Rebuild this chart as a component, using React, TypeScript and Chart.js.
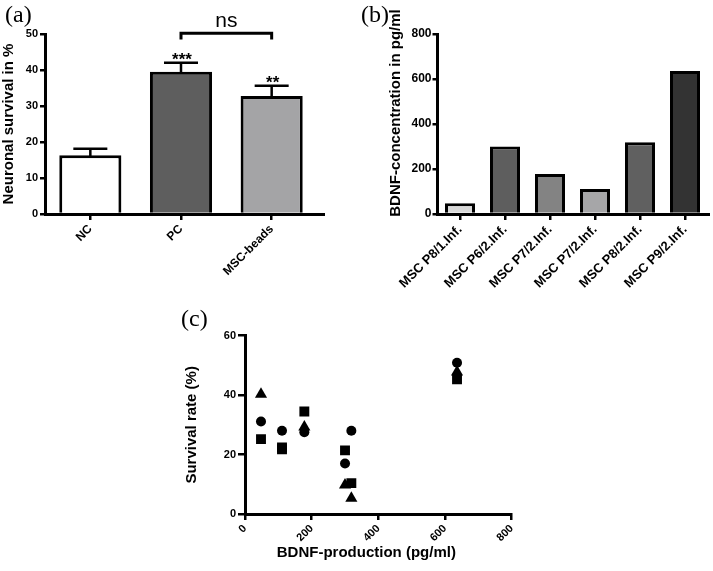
import React, { useEffect, useRef } from 'react';
import { Chart, registerables } from 'chart.js';

Chart.register(...registerables);

const FONT = '"Liberation Sans", Arial, Helvetica, sans-serif';

// ---------- Panel (a) ----------
const aCategories = ['NC', 'PC', 'MSC-beads'];
const aMeans = [16.3, 39.5, 32.8];
const aErrors = [1.8, 2.5, 2.8];
const aStars = ['', '***', '**'];
const aColors = ['#ffffff', '#5e5e5e', '#a4a4a6'];
const aYMax = 50;
const aYStep = 10;

// ---------- Panel (b) ----------
const bCategories = [
  'MSC P8/1.Inf.',
  'MSC P6/2.Inf.',
  'MSC P7/2.Inf.',
  'MSC P7/2.Inf.',
  'MSC P8/2.Inf.',
  'MSC P9/2.Inf.',
];
const bValues = [48, 300, 178, 111, 319, 636];
const bColors = ['#d8d8d8', '#5e5e5e', '#838383', '#a6a6a8', '#606060', '#333333'];
const bYMax = 800;
const bYStep = 200;

// ---------- Panel (c) ----------
const circleX = [48, 111, 178, 300, 319, 636];
const circleY = [31.1, 28.0, 27.5, 17.0, 28.0, 50.9];
const squareX = [48, 111, 111, 178, 300, 319, 636];
const squareY = [25.2, 22.4, 21.8, 34.5, 21.4, 10.4, 45.3];
const triangleX = [48, 178, 300, 319, 636];
const triangleY = [40.3, 29.3, 9.8, 5.3, 47.8];
const cXMax = 800;
const cXStep = 200;
const cYMax = 60;
const cYStep = 20;

const pts = (xs: number[], ys: number[]) => xs.map((x, i) => ({ x, y: ys[i] }));

const tickFont = (size: number) => ({ family: FONT, size, weight: 'bold' as const });

function extendXAxis(px: number) {
  return {
    id: 'extendXAxis',
    afterDraw(chart: any) {
      const { ctx, chartArea } = chart;
      const y = Math.floor(chartArea.bottom) + 0.5;
      ctx.save();
      ctx.strokeStyle = '#000';
      ctx.lineWidth = 3;
      ctx.beginPath();
      ctx.moveTo(chartArea.right - 2, y);
      ctx.lineTo(chartArea.right + px, y);
      ctx.stroke();
      ctx.restore();
    },
  };
}

const aAnnotations = {
  id: 'aAnnotations',
  afterDatasetsDraw(chart: any) {
    const { ctx } = chart;
    const ys = chart.scales.y;
    const meta = chart.getDatasetMeta(0);
    ctx.save();
    ctx.strokeStyle = '#000';
    ctx.fillStyle = '#000';
    ctx.lineWidth = 2.5;
    meta.data.forEach((bar: any, i: number) => {
      const top = ys.getPixelForValue(aMeans[i]);
      const et = ys.getPixelForValue(aMeans[i] + aErrors[i]);
      ctx.beginPath();
      ctx.moveTo(bar.x, top + 2);
      ctx.lineTo(bar.x, et);
      ctx.moveTo(bar.x - 17, et);
      ctx.lineTo(bar.x + 17, et);
      ctx.stroke();
      if (aStars[i]) {
        ctx.font = `bold 17px ${FONT}`;
        ctx.textAlign = 'center';
        ctx.textBaseline = 'alphabetic';
        ctx.fillText(aStars[i], bar.x + 1, et + 2);
      }
    });
    // significance bracket between PC and MSC-beads
    const x1 = meta.data[1].x;
    const x2 = meta.data[2].x;
    const yTop = ys.getPixelForValue(50.2);
    const yDrop = ys.getPixelForValue(48.5);
    ctx.lineWidth = 3;
    ctx.lineJoin = 'miter';
    ctx.beginPath();
    ctx.moveTo(x1, yDrop);
    ctx.lineTo(x1, yTop);
    ctx.lineTo(x2, yTop);
    ctx.lineTo(x2, yDrop);
    ctx.stroke();
    ctx.font = `21px ${FONT}`;
    ctx.textAlign = 'center';
    ctx.textBaseline = 'alphabetic';
    ctx.fillText('ns', (x1 + x2) / 2, yTop - 6.5);
    ctx.restore();
  },
};

function customTitle(id: string, text: string, axis: 'x' | 'y', offsetAlong: number, pos: number) {
  return {
    id,
    afterDraw(chart: any) {
      const { ctx, chartArea } = chart;
      ctx.save();
      ctx.fillStyle = '#000';
      ctx.font = `bold 15px ${FONT}`;
      ctx.textAlign = 'center';
      ctx.textBaseline = 'middle';
      if (axis === 'x') {
        ctx.fillText(text, (chartArea.left + chartArea.right) / 2 + offsetAlong, pos);
      } else {
        ctx.translate(pos, (chartArea.top + chartArea.bottom) / 2 + offsetAlong);
        ctx.rotate(-Math.PI / 2);
        ctx.fillText(text, 0, 0);
      }
      ctx.restore();
    },
  };
}

function barAxes(
  yMax: number,
  yStep: number,
  yWidth: number,
  xHeight: number,
  yTitle: any,
  yPad: number,
  xFont: number,
  yFont: number
) {
  return {
    x: {
      grid: {
        display: true,
        drawOnChartArea: false,
        drawTicks: true,
        tickLength: 6,
        offset: false,
        color: '#000',
        lineWidth: 2.5,
      },
      border: { display: true, color: '#000', width: 3 },
      ticks: {
        color: '#000',
        font: tickFont(xFont),
        minRotation: 45,
        maxRotation: 45,
        autoSkip: false,
        padding: 2,
      },
      afterFit: (s: any) => {
        s.height = xHeight;
      },
    },
    y: {
      min: 0,
      max: yMax,
      grid: {
        display: true,
        drawOnChartArea: false,
        drawTicks: true,
        tickLength: 5,
        color: '#000',
        lineWidth: 2.5,
      },
      border: { display: true, color: '#000', width: 3 },
      ticks: { stepSize: yStep, color: '#000', font: tickFont(yFont), padding: yPad },
      title: yTitle,
      afterFit: (s: any) => {
        s.width = yWidth;
      },
    },
  };
}

function makeA(): any {
  return {
    type: 'bar',
    data: {
      labels: aCategories,
      datasets: [
        {
          data: aMeans,
          backgroundColor: aColors,
          borderColor: '#000',
          borderWidth: 3,
          barPercentage: 0.685,
          categoryPercentage: 1,
        },
      ],
    },
    options: {
      responsive: false,
      animation: false,
      devicePixelRatio: 1,
      layout: { padding: { left: 0, top: 34, right: 43, bottom: 0 } },
      plugins: { legend: { display: false }, tooltip: { enabled: false } },
      scales: barAxes(
        aYMax,
        aYStep,
        45,
        76,
        {
          display: true,
          text: 'Neuronal survival in %',
          color: '#000',
          font: { family: FONT, size: 15, weight: 'bold' },
          padding: { top: 0, bottom: 0 },
        },
        2,
        12,
        11
      ),
    },
    plugins: [aAnnotations, extendXAxis(8)],
  };
}

function makeB(): any {
  return {
    type: 'bar',
    data: {
      labels: bCategories,
      datasets: [
        {
          data: bValues,
          backgroundColor: bColors,
          borderColor: '#000',
          borderWidth: 3,
          barPercentage: 0.667,
          categoryPercentage: 1,
        },
      ],
    },
    options: {
      responsive: false,
      animation: false,
      devicePixelRatio: 1,
      layout: { padding: { left: 0, top: 34, right: 5.5, bottom: 0 } },
      plugins: { legend: { display: false }, tooltip: { enabled: false } },
      scales: barAxes(bYMax, bYStep, 77.5, 76, { display: false }, 1, 13, 12),
    },
    plugins: [extendXAxis(2.5), customTitle('bTitle', 'BDNF-concentration in pg/ml', 'y', -11, 36)],
  };
}

function makeC(): any {
  const common = { backgroundColor: '#000', borderColor: '#000', borderWidth: 0 };
  return {
    type: 'scatter',
    data: {
      datasets: [
        { ...common, data: pts(squareX, squareY), pointStyle: 'rect', pointRadius: 7 },
        { ...common, data: pts(circleX, circleY), pointStyle: 'circle', pointRadius: 5 },
        { ...common, data: pts(triangleX, triangleY), pointStyle: 'triangle', pointRadius: 7 },
      ],
    },
    options: {
      responsive: false,
      animation: false,
      devicePixelRatio: 1,
      layout: { padding: { left: 0, top: 35.7, right: 28.3, bottom: 0 } },
      plugins: { legend: { display: false }, tooltip: { enabled: false } },
      scales: {
        x: {
          type: 'linear',
          min: 0,
          max: cXMax,
          grid: {
            display: true,
            drawOnChartArea: false,
            drawTicks: true,
            tickLength: 6,
            color: '#000',
            lineWidth: 2.5,
          },
          border: { display: true, color: '#000', width: 3 },
          ticks: {
            stepSize: cXStep,
            color: '#000',
            font: tickFont(11),
            minRotation: 45,
            maxRotation: 45,
            padding: 2,
          },
          afterFit: (s: any) => {
            s.height = 57;
          },
        },
        y: {
          min: 0,
          max: cYMax,
          grid: {
            display: true,
            drawOnChartArea: false,
            drawTicks: true,
            tickLength: 7,
            color: '#000',
            lineWidth: 2.5,
          },
          border: { display: true, color: '#000', width: 3 },
          ticks: { stepSize: cYStep, color: '#000', font: tickFont(11), padding: 2 },
          title: {
            display: true,
            text: 'Survival rate (%)',
            color: '#000',
            font: { family: FONT, size: 15, weight: 'bold' },
            padding: { top: 2.7, bottom: 0 },
          },
          afterFit: (s: any) => {
            s.width = 65;
          },
        },
      },
    },
    plugins: [customTitle('cTitle', 'BDNF-production (pg/ml)', 'x', -12, 253)],
  };
}

const panelLabel = (left: number, top: number): React.CSSProperties => ({
  position: 'absolute',
  left,
  top,
  fontFamily: '"Liberation Serif", "Times New Roman", serif',
  fontSize: 24,
  lineHeight: '24px',
  color: '#000',
});

export default function App() {
  const aRef = useRef<HTMLCanvasElement>(null);
  const bRef = useRef<HTMLCanvasElement>(null);
  const cRef = useRef<HTMLCanvasElement>(null);

  useEffect(() => {
    const charts = [
      new Chart(aRef.current as HTMLCanvasElement, makeA()),
      new Chart(bRef.current as HTMLCanvasElement, makeB()),
      new Chart(cRef.current as HTMLCanvasElement, makeC()),
    ];
    return () => charts.forEach((c) => c.destroy());
  }, []);

  return (
    <div
      style={{
        position: 'absolute',
        left: 0,
        top: 0,
        width: 713,
        height: 571,
        background: '#fff',
        overflow: 'hidden',
      }}
    >
      <canvas ref={aRef} width={360} height={290} style={{ position: 'absolute', left: 0, top: 0 }} />
      <canvas ref={bRef} width={353} height={290} style={{ position: 'absolute', left: 360, top: 0 }} />
      <canvas ref={cRef} width={360} height={271} style={{ position: 'absolute', left: 180, top: 300 }} />
      <div style={panelLabel(5, 2)}>(a)</div>
      <div style={panelLabel(361, 2)}>(b)</div>
      <div style={panelLabel(181, 306)}>(c)</div>
    </div>
  );
}
